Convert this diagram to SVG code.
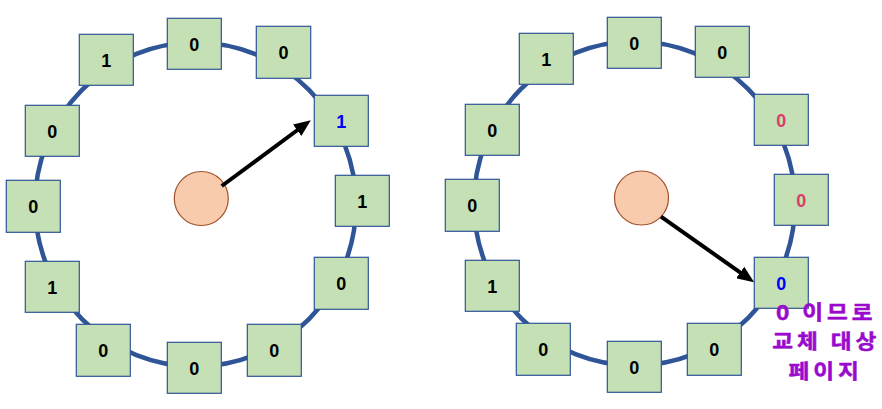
<svg xmlns="http://www.w3.org/2000/svg" width="882" height="409" viewBox="0 0 882 409">
<defs>
<style>
.ring{fill:none;stroke:#2F5597;stroke-width:4.5}
.box{fill:#C5E0B4;stroke:#2F5597;stroke-width:1.2}
.v{font-family:"Liberation Sans",Arial,sans-serif;font-weight:bold;font-size:18px;text-anchor:middle;fill:#000}
.blue{fill:#0000FF}
.red{fill:#DC3C6E}
.hub{fill:#F8CBAD;stroke:#A0522D;stroke-width:1.2}
.ptr{stroke:#000;stroke-width:4;fill:none;marker-end:url(#ah)}
.note{font-family:"Noto Sans CJK KR","Liberation Sans",sans-serif;font-weight:bold;font-size:20.2px;letter-spacing:3.5px;text-anchor:middle;fill:#9A0ACC;stroke:#9A0ACC;stroke-width:0.5}
</style>
<marker id="ah" markerUnits="userSpaceOnUse" markerWidth="18" markerHeight="14" refX="8" refY="7" orient="auto">
<path d="M0,0 L17,7 L0,14 Z" fill="#000"/>
</marker>
</defs>
<g id="ring-left"><ellipse class="ring" cx="195.5" cy="204.5" rx="160.5" ry="162"/></g>
<g id="ring-right"><ellipse class="ring" cx="634.5" cy="203.5" rx="160.5" ry="162"/></g>

<g id="L1"><rect class="box" x="167.3" y="18.3" width="54" height="51"/><text class="v" x="194.3" y="51">0</text></g>
<g id="L2"><rect class="box" x="256.3" y="26.3" width="54.4" height="52"/><text class="v" x="283.5" y="59.3">0</text></g>
<g id="L3"><rect class="box" x="314.3" y="95.3" width="54" height="51"/><text class="v blue" x="341.3" y="128">1</text></g>
<g id="L4"><rect class="box" x="335.3" y="175.3" width="54" height="51"/><text class="v" x="362.3" y="208">1</text></g>
<g id="L5"><rect class="box" x="314.3" y="257.3" width="54" height="52"/><text class="v" x="341.3" y="290.3">0</text></g>
<g id="L6"><rect class="box" x="247.3" y="324.3" width="54" height="52"/><text class="v" x="274.3" y="357.3">0</text></g>
<g id="L7"><rect class="box" x="167.3" y="342.3" width="54" height="51"/><text class="v" x="194.3" y="375">0</text></g>
<g id="L8"><rect class="box" x="76.3" y="324.3" width="54" height="52"/><text class="v" x="103.3" y="357.3">0</text></g>
<g id="L9"><rect class="box" x="25.3" y="261.3" width="54" height="51"/><text class="v" x="52.3" y="294">1</text></g>
<g id="L10"><rect class="box" x="6.3" y="180.3" width="54" height="52"/><text class="v" x="33.3" y="213.3">0</text></g>
<g id="L11"><rect class="box" x="25.3" y="105.3" width="54" height="51"/><text class="v" x="52.3" y="138">0</text></g>
<g id="L12"><rect class="box" x="79.3" y="34.3" width="54" height="51"/><text class="v" x="106.3" y="67">1</text></g>
<g id="hub-left"><circle class="hub" cx="201.3" cy="198.5" r="27"/></g>

<g id="R1"><rect class="box" x="607.3" y="17.3" width="54" height="51"/><text class="v" x="634.3" y="50">0</text></g>
<g id="R2"><rect class="box" x="695.3" y="26.3" width="54" height="51"/><text class="v" x="722.3" y="59">0</text></g>
<g id="R3"><rect class="box" x="754.3" y="94.3" width="54" height="51"/><text class="v red" x="781.3" y="127">0</text></g>
<g id="R4"><rect class="box" x="774.3" y="174.3" width="54" height="51"/><text class="v red" x="801.3" y="207">0</text></g>
<g id="R5"><rect class="box" x="754.3" y="257.3" width="54" height="51"/><text class="v blue" x="781.3" y="290">0</text></g>
<g id="R6"><rect class="box" x="687.3" y="323.3" width="54" height="52"/><text class="v" x="714.3" y="356.3">0</text></g>
<g id="R7"><rect class="box" x="607.3" y="341.3" width="54" height="51"/><text class="v" x="634.3" y="374">0</text></g>
<g id="R8"><rect class="box" x="516.3" y="323.3" width="54" height="52"/><text class="v" x="543.3" y="356.3">0</text></g>
<g id="R9"><rect class="box" x="465.3" y="260.3" width="54" height="51"/><text class="v" x="492.3" y="293">1</text></g>
<g id="R10"><rect class="box" x="445.3" y="179.3" width="54" height="52"/><text class="v" x="472.3" y="212.3">0</text></g>
<g id="R11"><rect class="box" x="465.3" y="104.3" width="54" height="51"/><text class="v" x="492.3" y="137">0</text></g>
<g id="R12"><rect class="box" x="519.3" y="33.3" width="54" height="51"/><text class="v" x="546.3" y="66">1</text></g>
<g id="hub-right"><circle class="hub" cx="641.5" cy="198" r="27"/></g>

<g id="connectors">
<line class="ptr" x1="221.7" y1="186" x2="303.6" y2="125.5"/>
<line class="ptr" x1="661" y1="216.7" x2="746.8" y2="277.1"/>
</g>

<g id="note" transform="translate(824.5,0) scale(1.12,1)">
<text class="note" x="1.6" y="320">0 이므로</text>
<text class="note" x="1.6" y="349.5">교체 대상</text>
<text class="note" x="1" y="379.5">페이지</text>
</g>
</svg>
